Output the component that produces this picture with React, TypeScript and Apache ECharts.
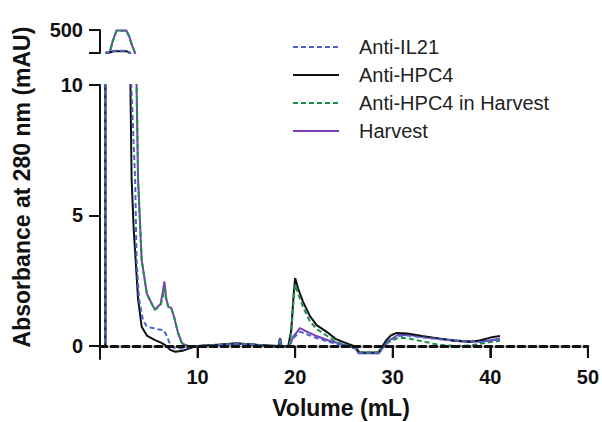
import React, { useEffect, useRef } from 'react';
import * as echarts from 'echarts';

// ---- data (Volume mL, Absorbance mAU) ----
const seriesNames = ['Anti-IL21', 'Anti-HPC4', 'Anti-HPC4 in Harvest', 'Harvest'];

const antiIL21: [number, number][] = [
  [0, 0], [0.55, 0], [0.62, 401], [1.1, 402], [1.3, 409], [2.6, 410], [2.9, 404], [3.1, 401],
  [3.15, 10.5], [3.6, 6.4], [3.75, 3.3], [4.0, 1.8], [4.4, 1.0], [4.8, 0.74], [5.5, 0.68],
  [6.15, 0.62], [6.5, 0.62], [6.8, 0.42], [7.2, 0.05], [7.6, -0.08], [8.5, -0.1], [9.2, -0.05],
  [10, 0], [12, 0.03], [14, 0.08], [16, 0.05], [18.3, -0.05], [18.45, 0.3], [18.6, -0.05],
  [19.4, 0], [19.8, 0.3], [20.5, 0.55], [21.2, 0.45], [22.2, 0.3], [23.5, 0.15], [25, 0.02],
  [26.2, -0.1], [26.5, -0.28], [28.6, -0.28], [29, -0.05], [29.6, 0.2], [30.5, 0.38],
  [31.5, 0.4], [33, 0.33], [35, 0.25], [37, 0.18], [39, 0.15], [40, 0.2], [41, 0.25],
];

const antiHPC4: [number, number][] = [
  [0, 0], [0.55, 0], [0.62, 401], [1.0, 402], [1.3, 406], [1.5, 408], [2.7, 408], [2.9, 404],
  [3.05, 401], [3.1, 10.5], [3.24, 6.4], [3.45, 4.5], [3.65, 3.3], [3.9, 1.8], [4.27, 0.74],
  [4.8, 0.4], [5.6, 0.23], [6.3, 0.12], [6.8, 0.0], [7.2, -0.15], [7.7, -0.22], [8.5, -0.18],
  [9.5, -0.05], [10, 0], [12, 0.05], [14, 0.1], [16, 0.05], [18.3, 0.0], [18.45, 0.3],
  [18.6, 0.0], [19.3, 0.0], [19.6, 0.6], [19.85, 2.0], [20.0, 2.6], [20.3, 2.2], [20.8, 1.7],
  [21.5, 1.15], [22.2, 0.8], [23.2, 0.55], [24.25, 0.25], [25.3, 0.1], [26.0, 0.0],
  [26.3, -0.1], [26.6, -0.25], [28.5, -0.25], [28.8, -0.1], [29.3, 0.2], [29.8, 0.4],
  [30.4, 0.5], [31.5, 0.48], [33, 0.38], [34.5, 0.3], [36.2, 0.2], [38, 0.15], [39, 0.22],
  [40, 0.32], [41, 0.38],
];

const antiHPC4InHarvest: [number, number][] = [
  [0, 0], [0.55, 0], [0.62, 401], [1.0, 402], [1.3, 450], [1.7, 497], [2.7, 497], [3.0, 470],
  [3.3, 430], [3.6, 401], [3.75, 10.5], [3.9, 6.4], [4.27, 3.3], [4.8, 2.0], [5.6, 1.38],
  [6.2, 1.55], [6.45, 1.9], [6.6, 2.2], [6.8, 1.75], [7.0, 1.5], [7.3, 1.46], [7.6, 1.1],
  [8.0, 0.5], [8.4, 0.1], [9, 0], [10, 0], [12, 0.03], [14, 0.08], [16, 0.05], [18.3, -0.05],
  [18.45, 0.3], [18.6, -0.05], [19.4, 0], [19.6, 0.5], [19.85, 1.8], [20.0, 2.35], [20.3, 2.0],
  [20.8, 1.5], [21.5, 0.95], [22.2, 0.65], [23.2, 0.4], [24.25, 0.15], [25.3, 0.03],
  [26.2, -0.1], [26.5, -0.25], [28.6, -0.25], [29, -0.05], [29.6, 0.15], [30.5, 0.3],
  [31.5, 0.3], [33, 0.18], [34.8, 0.04], [36.5, 0.0], [38, 0.02], [40, 0.15], [41, 0.2],
];

const harvest: [number, number][] = [
  [0, 0], [0.55, 0], [0.62, 401], [1.0, 402], [1.3, 452], [1.7, 498], [2.7, 498], [3.0, 472],
  [3.3, 432], [3.58, 401], [3.72, 10.5], [3.9, 6.4], [4.27, 3.3], [4.8, 2.0], [5.6, 1.4],
  [6.2, 1.6], [6.45, 2.1], [6.6, 2.47], [6.8, 1.8], [7.0, 1.5], [7.3, 1.46], [7.6, 1.1],
  [8.0, 0.5], [8.4, 0.1], [9, 0], [10, 0], [12, 0.03], [14, 0.08], [16, 0.05], [18.3, -0.05],
  [18.45, 0.25], [18.6, -0.05], [19.4, 0], [19.8, 0.35], [20.5, 0.68], [21.2, 0.55],
  [22.2, 0.38], [23.5, 0.2], [25, 0.05], [26.2, -0.1], [26.5, -0.28], [28.6, -0.28],
  [29, -0.05], [29.6, 0.2], [30.5, 0.42], [31.5, 0.43], [33, 0.35], [35, 0.27], [37, 0.2],
  [39, 0.17], [40, 0.22], [41, 0.28],
];

const xTickValues = [10, 20, 30, 40, 50];
const yTickValues = [0, 5, 10];
const upperYTicks = [400, 500];
const upperYLabel = 500;
const yMin = -0.5;
const yMax = 10;

const FONT = 'Liberation Sans, Arial, Helvetica, sans-serif';

const styles: Record<string, { color: string; type: any }> = {
  'Anti-IL21': { color: '#4a64c8', type: [5, 3] },
  'Anti-HPC4': { color: '#111111', type: 'solid' },
  'Anti-HPC4 in Harvest': { color: '#1f8f4e', type: [5, 3] },
  'Harvest': { color: '#7a3fb8', type: 'solid' },
};

const dataByName: Record<string, [number, number][]> = {
  'Anti-IL21': antiIL21,
  'Anti-HPC4': antiHPC4,
  'Anti-HPC4 in Harvest': antiHPC4InHarvest,
  'Harvest': harvest,
};

const drawOrder = ['Harvest', 'Anti-HPC4', 'Anti-HPC4 in Harvest', 'Anti-IL21'];

export default function App() {
  const ref = useRef<HTMLDivElement>(null);
  useEffect(() => {
    const chart = echarts.init(ref.current!, null, { renderer: 'svg' });
    const gridTop = 85;
    const gridBottom = 63;
    const gridH = 422 - gridTop - gridBottom;
    // place the x axis on y = 0 (moved up from the grid bottom)
    const zeroOffset = -Math.round(((0 - yMin) / (yMax - yMin)) * gridH);
    const series: any[] = [];
    [0, 1].forEach((gi) => {
      drawOrder.forEach((name) => {
        series.push({
          type: 'line',
          name,
          xAxisIndex: gi,
          yAxisIndex: gi,
          data: dataByName[name],
          symbol: 'none',
          clip: true,
          lineStyle: { color: styles[name].color, type: styles[name].type, width: 2 },
          itemStyle: { color: styles[name].color },
        });
      });
    });
    const baseGraphic: any[] = [
      {
        type: 'text', x: 22, y: 187, rotation: Math.PI / 2,
        style: { text: 'Absorbance at 280 nm (mAU)', fontSize: 23, fontWeight: 'bold', fontFamily: FONT, fill: '#111', align: 'center', verticalAlign: 'middle' },
      },
      {
        type: 'text', x: 341, y: 408,
        style: { text: 'Volume (mL)', fontSize: 23, fontWeight: 'bold', fontFamily: FONT, fill: '#111', align: 'center', verticalAlign: 'middle' },
      },
    ];
    chart.setOption({
      animation: false,
      backgroundColor: '#ffffff',
      textStyle: { fontFamily: FONT },
      grid: [
        { left: 100, right: 14, top: gridTop, bottom: gridBottom },
        { left: 100, right: 14, top: 30, height: 23 },
      ],
      xAxis: [
        {
          type: 'value', gridIndex: 0, min: 0, max: 50, interval: 10, z: 5,
          position: 'bottom', offset: zeroOffset,
          axisLine: { show: true, onZero: false, lineStyle: { color: '#111', width: 3, type: [7, 4] } },
          axisTick: { show: true, length: 12, lineStyle: { color: '#111', width: 2, type: 'solid' } },
          axisLabel: {
            margin: 21, fontSize: 20, fontWeight: 'bold', color: '#111', fontFamily: FONT,
            formatter: (v: number) => (v === 0 ? '' : String(v)),
          },
          splitLine: { show: false },
        },
        { type: 'value', gridIndex: 1, min: 0, max: 50, show: false },
      ],
      yAxis: [
        {
          type: 'value', gridIndex: 0, min: yMin, max: yMax,
          axisLine: { show: true, onZero: false, lineStyle: { color: '#111', width: 2 } },
          axisTick: { show: true, length: 11, lineStyle: { color: '#111', width: 2 }, customValues: yTickValues },
          axisLabel: {
            customValues: yTickValues, margin: 17, fontSize: 20, fontWeight: 'bold', color: '#111', fontFamily: FONT,
          },
          splitLine: { show: false },
        },
        {
          type: 'value', gridIndex: 1, min: 400, max: 500, interval: 100,
          axisLine: { show: true, onZero: false, lineStyle: { color: '#111', width: 2 } },
          axisTick: { show: true, length: 11, lineStyle: { color: '#111', width: 2 }, customValues: upperYTicks },
          axisLabel: {
            margin: 17, fontSize: 20, fontWeight: 'bold', color: '#111', fontFamily: FONT,
            formatter: (v: number) => (v === upperYLabel ? String(v) : ''),
          },
          splitLine: { show: false },
        },
      ],
      legend: {
        data: seriesNames,
        orient: 'vertical',
        left: 287,
        top: 32,
        itemWidth: 46,
        itemHeight: 14,
        itemGap: 8,
        itemStyle: { opacity: 0 },
        textStyle: { fontSize: 20, color: '#222', fontFamily: FONT, padding: [0, 0, 0, 15], lineHeight: 20 },
      },
      graphic: baseGraphic,
      series,
    });
    // volume-axis tick marks as thin filled rects, positioned through the chart's own x scale
    const tickGraphic: any[] = [];
    xTickValues.forEach((v) => {
      const p = chart.convertToPixel({ gridIndex: 0 }, [v, 0]) as number[];
      if (p && isFinite(p[0]) && isFinite(p[1])) {
        tickGraphic.push({
          type: 'rect', z: 100, silent: true,
          shape: { x: p[0] - 1, y: p[1], width: 2, height: 12 },
          style: { fill: '#111' },
        });
      }
    });
    chart.setOption({ graphic: [...baseGraphic, ...tickGraphic] }, { replaceMerge: ['graphic'] });
    return () => chart.dispose();
  }, []);
  return <div ref={ref} style={{ position: 'absolute', left: 0, top: 0, width: 602, height: 422, background: '#fff' }} />;
}
